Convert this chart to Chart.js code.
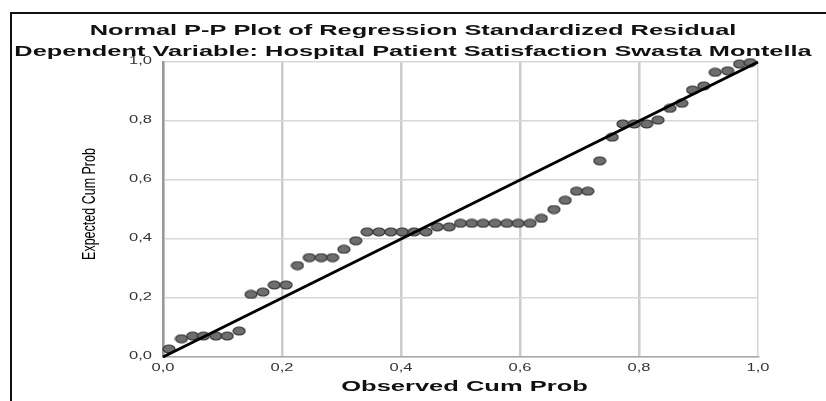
<!DOCTYPE html>
<html>
<head>
<meta charset="utf-8">
<script src="https://cdn.jsdelivr.net/npm/chart.js@4.4.1/dist/chart.umd.min.js"></script>
<style>
  html, body { margin: 0; padding: 0; background: #fff; overflow: hidden; }
  #wrap { position: relative; width: 826px; height: 401px; }
  #frame { position: absolute; left: 10px; top: 12px; width: 900px; height: 500px;
           border-top: 2px solid #111; border-left: 2px solid #111; }
  canvas { position: absolute; left: 0; top: 0; }
</style>
</head>
<body>
<div id="wrap">
  <div id="frame"></div>
  <canvas id="ppPlot" width="826" height="401"></canvas>
</div>
<script>
var titleLines = ['Normal P-P Plot of Regression Standardized Residual',
                  'Dependent Variable: Hospital Patient Satisfaction Swasta Montella'];
var xAxisTitle = 'Observed Cum Prob';
var yAxisTitle = 'Expected Cum Prob';
var tickValues = [0, 0.2, 0.4, 0.6, 0.8, 1.0];

// observed cum prob (x) and expected cum prob (y)
var observedCumProb = [0.010, 0.031, 0.050, 0.068, 0.089, 0.108, 0.128, 0.148, 0.168, 0.187,
                       0.207, 0.226, 0.246, 0.266, 0.285, 0.304, 0.324, 0.343, 0.363, 0.383,
                       0.402, 0.422, 0.442, 0.461, 0.481, 0.500, 0.519, 0.538, 0.558, 0.578,
                       0.597, 0.617, 0.636, 0.657, 0.676, 0.695, 0.714, 0.734, 0.755, 0.773,
                       0.792, 0.813, 0.832, 0.852, 0.872, 0.890, 0.909, 0.928, 0.949, 0.969,
                       0.987];
var expectedCumProb = [0.027, 0.062, 0.071, 0.071, 0.071, 0.071, 0.088, 0.212, 0.220, 0.244,
                       0.244, 0.310, 0.337, 0.337, 0.337, 0.365, 0.394, 0.424, 0.424, 0.424,
                       0.424, 0.424, 0.424, 0.441, 0.441, 0.453, 0.453, 0.453, 0.453, 0.453,
                       0.453, 0.453, 0.470, 0.500, 0.531, 0.562, 0.562, 0.665, 0.745, 0.790,
                       0.790, 0.790, 0.803, 0.843, 0.860, 0.905, 0.919, 0.965, 0.970, 0.993,
                       0.998];
var refLineX = [0, 1];
var refLineY = [0, 1];

// elliptical marker like the SPSS dots
var dot = document.createElement('canvas');
dot.width = 14; dot.height = 10;
var dctx = dot.getContext('2d');
dctx.beginPath();
dctx.ellipse(7, 5, 6, 4, 0, 0, Math.PI * 2);
dctx.fillStyle = '#6e6e6e';
dctx.fill();
dctx.lineWidth = 1.2;
dctx.strokeStyle = '#333';
dctx.stroke();

var points = observedCumProb.map(function (x, i) { return { x: x, y: expectedCumProb[i] }; });
var refLine = refLineX.map(function (x, i) { return { x: x, y: refLineY[i] }; });

function commaLabel(v) { return v.toFixed(1).replace('.', ','); }

// the SPSS export is stretched sideways, so text is drawn with a horizontal scale
function wideText(c, text, x, y, font, sx, align, color, rotate) {
  c.save();
  c.font = font;
  c.fillStyle = color;
  c.textAlign = align;
  c.textBaseline = 'middle';
  c.translate(x, y);
  c.scale(sx, 1);
  if (rotate) c.rotate(-Math.PI / 2);
  c.fillText(text, 0, 0);
  c.restore();
}

var sans = 'Liberation Sans, Arial, sans-serif';

var textPlugin = {
  id: 'spssText',
  afterDraw: function (chart) {
    var c = chart.ctx;
    var xs = chart.scales.x, ys = chart.scales.y;
    var area = chart.chartArea;
    wideText(c, titleLines[0], 413, 31, 'bold 15px ' + sans, 1.69, 'center', '#111');
    wideText(c, titleLines[1], 413, 52, 'bold 15px ' + sans, 1.69, 'center', '#111');
    xs.ticks.forEach(function (t) {
      wideText(c, commaLabel(t.value), xs.getPixelForValue(t.value), area.bottom + 11,
               '11px ' + sans, 1.5, 'center', '#333');
    });
    ys.ticks.forEach(function (t) {
      wideText(c, commaLabel(t.value), area.left - 11, ys.getPixelForValue(t.value) - 1,
               '11px ' + sans, 1.5, 'right', '#333');
    });
    wideText(c, xAxisTitle, (area.left + area.right) / 2 + 4, 387, 'bold 15px ' + sans, 1.7, 'center', '#111');
    wideText(c, yAxisTitle, 90, 204, '12.5px ' + sans, 1.5, 'center', '#000', true);
  }
};

var ctx = document.getElementById('ppPlot').getContext('2d');
var ppChart = new Chart(ctx, {
  type: 'scatter',
  data: {
    datasets: [
      {
        type: 'line',
        data: refLine,
        borderColor: '#000',
        borderWidth: 3,
        pointRadius: 0,
        fill: false,
        order: 0,
        clip: false
      },
      {
        data: points,
        pointStyle: dot,
        pointRadius: 5,
        order: 1,
        clip: false
      }
    ]
  },
  options: {
    responsive: false,
    animation: false,
    layout: { padding: { left: 0, right: 68, top: 62, bottom: 0 } },
    plugins: {
      legend: { display: false },
      tooltip: { enabled: false },
      title: { display: false }
    },
    scales: {
      x: {
        type: 'linear',
        min: 0, max: 1,
        afterBuildTicks: function (s) { s.ticks = tickValues.map(function (v) { return { value: v }; }); },
        afterFit: function (s) { s.height = 44; },
        ticks: { display: false },
        grid: {
          drawTicks: false,
          color: function (c) { return c.index === 5 ? '#d6d6d6' : '#cccccc'; },
          lineWidth: function (c) { return c.index === 5 ? 1.5 : 2.5; }
        },
        border: { color: '#a8a8a8', width: 1.5 }
      },
      y: {
        type: 'linear',
        min: 0, max: 1,
        afterBuildTicks: function (s) { s.ticks = tickValues.map(function (v) { return { value: v }; }); },
        afterFit: function (s) { s.width = 163; },
        ticks: { display: false },
        grid: {
          drawTicks: false,
          color: '#d8d8d8',
          lineWidth: 1.5
        },
        border: { color: '#999', width: 2.5 }
      }
    }
  },
  plugins: [textPlugin]
});
</script>
</body>
</html>
